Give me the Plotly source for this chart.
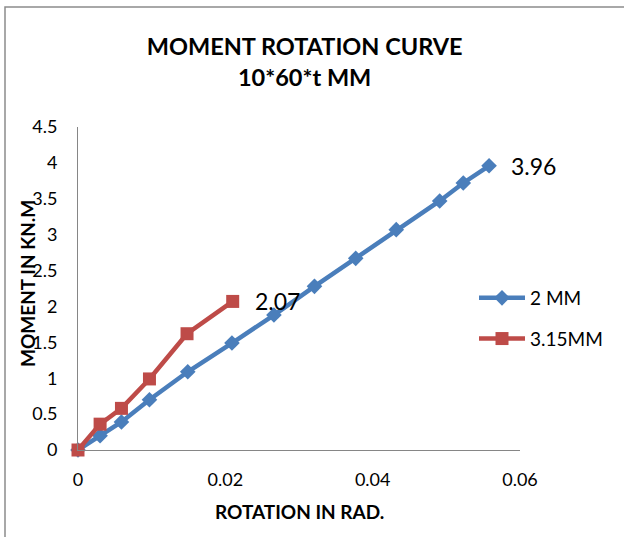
import plotly.graph_objects as go

# Rotation (rad) and moment (kN.m) readings for each plate thickness
rot_2mm = [0, 0.0030, 0.0059, 0.0097, 0.0149, 0.0209, 0.0266, 0.0321, 0.0377, 0.0432, 0.0491, 0.0523, 0.0558]
mom_2mm = [0, 0.20, 0.39, 0.70, 1.09, 1.49, 1.88, 2.28, 2.67, 3.07, 3.47, 3.72, 3.96]

rot_315mm = [0, 0.0030, 0.0059, 0.0097, 0.0148, 0.0210]
mom_315mm = [0, 0.36, 0.58, 0.99, 1.62, 2.07]

series_names = ["2 MM", "3.15MM"]
x_ticks = [0, 0.02, 0.04, 0.06]
y_ticks = [0, 0.5, 1, 1.5, 2, 2.5, 3, 3.5, 4, 4.5]

BLUE = "#4A7EBB"
RED = "#BE4B48"
FONT = "Lato, Open Sans, sans-serif"

W, H = 624, 537
L, R, T, B = 78, 104, 127, 87
pw, ph = W - L - R, H - T - B

fig = go.Figure()
fig.add_trace(go.Scatter(
    x=rot_2mm, y=mom_2mm, name=series_names[0], mode="lines+markers",
    line=dict(color=BLUE, width=4.5),
    marker=dict(symbol="diamond", size=12, color=BLUE),
    cliponaxis=False, legendgroup="a",
))
fig.add_trace(go.Scatter(
    x=rot_315mm, y=mom_315mm, name=series_names[1], mode="lines+markers",
    line=dict(color=RED, width=4.5),
    marker=dict(symbol="square", size=13, color=RED),
    cliponaxis=False, legendgroup="b",
))

# end-point value labels
annotations = []
for xs, ys in ((rot_2mm, mom_2mm), (rot_315mm, mom_315mm)):
    annotations.append(dict(
        x=xs[-1], y=ys[-1], xref="x", yref="y", text=f"{ys[-1]:.2f}",
        showarrow=False, xanchor="left", yanchor="middle", xshift=20,
        font=dict(family=FONT, size=23, color="#000000"),
    ))

# axis titles
annotations.append(dict(
    x=(299 - L) / pw, y=(H - B - 511) / ph, xref="paper", yref="paper",
    text="<b>ROTATION IN RAD.</b>", showarrow=False, xanchor="center", yanchor="middle",
    font=dict(family=FONT, size=19, color="#000000"),
))
annotations.append(dict(
    x=(27 - L) / pw, y=(H - B - 284) / ph, xref="paper", yref="paper",
    text="<b>MOMENT IN KN.M</b>", showarrow=False, textangle=-90,
    xanchor="center", yanchor="middle",
    font=dict(family=FONT, size=19, color="#000000"),
))

fig.update_layout(
    width=W, height=H,
    margin=dict(l=L, r=R, t=T, b=B),
    paper_bgcolor="white", plot_bgcolor="white",
    font=dict(family=FONT, size=18, color="#000000"),
    title=dict(
        text="<b>MOMENT ROTATION CURVE<br>10*60*t MM</b>",
        x=320 / W, xanchor="center", xref="paper",
        y=1 - 55 / H, yanchor="middle", yref="container",
        font=dict(family=FONT, size=23.5, color="#000000"),
    ),
    xaxis=dict(
        range=[0, 0.06], tickvals=x_ticks, ticktext=[f"{v:g}" for v in x_ticks],
        showgrid=False, zeroline=False, showline=True, linecolor="#868686", linewidth=1,
        ticks="", ticklabelstandoff=13, tickfont=dict(size=18),
    ),
    yaxis=dict(
        range=[0, 4.5], tickvals=y_ticks, ticktext=[f"{v:g}" for v in y_ticks],
        showgrid=False, zeroline=False, showline=True, linecolor="#868686", linewidth=1,
        ticks="", ticklabelstandoff=16, tickfont=dict(size=18),
    ),
    legend=dict(
        x=(474 - L) / pw, y=(H - B - 279) / ph, xanchor="left", yanchor="top",
        xref="paper", yref="paper", bgcolor="rgba(0,0,0,0)",
        font=dict(family=FONT, size=19), tracegroupgap=13, itemwidth=46,
    ),
    annotations=annotations,
    showlegend=True,
    shapes=[dict(
        type="rect", xref="paper", yref="paper",
        x0=(5 - L) / pw, x1=(W + 20 - L) / pw,
        y0=(H - B - (H + 20)) / ph, y1=(H - B - 7) / ph,
        line=dict(color="#8C8C8C", width=1.5), fillcolor="rgba(0,0,0,0)", layer="below",
    )],
)

fig.write_html("out.html")
